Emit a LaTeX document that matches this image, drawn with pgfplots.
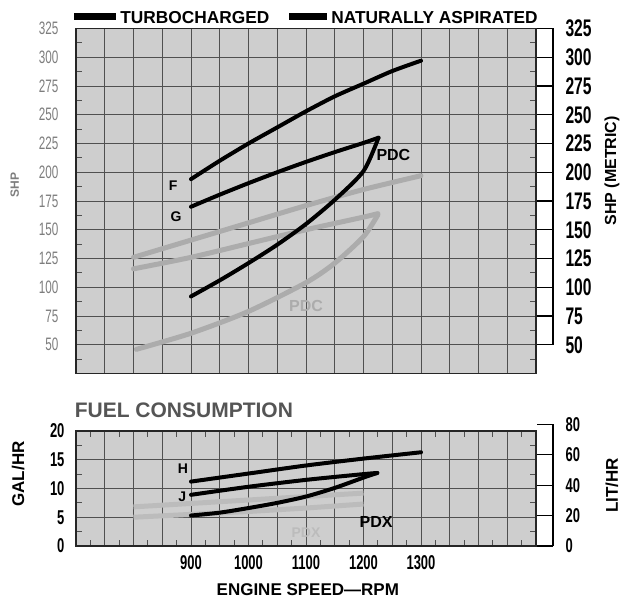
\documentclass[border=0pt]{standalone}
\usepackage{fontspec}
\setmainfont{Liberation Sans}
\newfontfamily\cond{Liberation Sans}[FakeStretch=0.65]
\usepackage{pgfplots}
\pgfplotsset{compat=1.18}
\definecolor{bgc}{RGB}{206,206,206}
\definecolor{gridc}{RGB}{80,80,80}
\definecolor{nagray}{RGB}{172,172,172}
\definecolor{nafaint}{RGB}{188,188,188}
\definecolor{labgray}{RGB}{125,125,125}
\definecolor{titgray}{RGB}{85,85,85}

\pgfplotsset{
  chartgrid/.style={
    scale only axis, width=460pt,
    xmin=700, xmax=1500,
    xtick={700,750,...,1500},
    grid=major, major grid style={draw=gridc, line width=0.9pt},
    major tick length=0pt, minor tick length=6pt,
    minor tick style={line width=0.9pt, draw=gridc},
    axis line style={line width=1.4pt, draw=black!85},
    axis background/.style={fill=bgc},
    /pgf/number format/assume math mode=true,
    clip=false,
  },
  rightscale/.style={
    scale only axis, width=460pt,
    xmin=700, xmax=1500,
    axis x line=none, axis y line*=right,
    tick align=inside, major tick length=16pt,
    tick style={line width=1.2pt, draw=black},
    axis line style={line width=1.3pt},
    /pgf/number format/assume math mode=true,
  },
  curve/.style={line width=4pt, smooth, tension=0.45, line cap=round},
}

\begin{document}
\begin{tikzpicture}
\useasboundingbox (-76pt,-230.5pt) rectangle (549pt,373.5pt);

% ---- power ----
\begin{axis}[chartgrid, at={(0,0)}, anchor=south west, height=345pt,
  ymin=25, ymax=325, ytick={50,75,...,325},
  minor ytick={37.5,62.5,...,312.5},
  xticklabel style={opacity=0},
  yticklabel style={font=\cond\fontsize{18}{18}\selectfont, text=labgray, xshift=-14pt},
  ylabel={SHP}, ylabel style={font=\bfseries\fontsize{12}{12}\selectfont, text=labgray,
    at={(axis description cs:-0.133,0.546)}, anchor=center},
]
% naturally aspirated (gray)
\addplot[curve, nagray, line width=5pt] coordinates {
  (800,126) (900,141) (1000,156) (1100,171) (1200,185) (1300,197) };
\addplot[curve, nagray, line width=5pt] coordinates {
  (800,116) (900,126) (1000,138) (1100,150) (1200,161) (1225,164) };
\addplot[curve, nagray, line width=5pt] coordinates {
  (805,46) (900,60) (1000,79) (1100,104) (1150,121) (1200,144) (1225,163) };
% turbocharged (black)
\addplot[curve, black] coordinates {
  (900,194) (950,210) (1000,225) (1050,239) (1100,253) (1150,266)
  (1200,277) (1250,288) (1300,297) };
\addplot[curve, black] coordinates {
  (900,170) (950,180.5) (1000,190.5) (1050,200) (1100,209) (1150,217.5) (1200,225.5) (1226,230) };
\addplot[curve, black] coordinates {
  (900,92) (950,106) (1000,121) (1050,137) (1100,155) (1150,176) (1200,201) (1226,230) };
\node[font=\bfseries\fontsize{14}{14}\selectfont] at (axis cs:869,188) {F};
\node[font=\bfseries\fontsize{14}{14}\selectfont] at (axis cs:874,161) {G};
\node[font=\bfseries\fontsize{16}{16}\selectfont] at (axis cs:1252,215) {PDC};
\node[font=\bfseries\fontsize{16}{16}\selectfont, text=nagray] at (axis cs:1100,84) {PDC};
% legend
\node[anchor=west, inner sep=0pt, font=\bfseries\fontsize{17.3}{17.3}\selectfont]
  at (axis description cs:-0.004,1.033)
  {\rule[0.18em]{42pt}{7pt}\hspace{4pt}TURBOCHARGED\hspace{20pt}\rule[0.18em]{38pt}{7pt}\hspace{4pt}NATURALLY ASPIRATED};
\end{axis}

\begin{axis}[rightscale, at={(17pt,28.75pt)}, anchor=south west, height=316.25pt,
  ymin=50, ymax=325, ytick={50,75,...,325},
  yticklabel style={font=\cond\bfseries\fontsize{24}{24}\selectfont, xshift=9pt},
  ylabel={SHP (METRIC)},
  ylabel style={font=\bfseries\fontsize{16}{16}\selectfont,
    at={(axis description cs:1.128,0.55)}, anchor=center},
]
\end{axis}

% ---- fuel consumption ----
\begin{axis}[chartgrid, at={(0,-172.5pt)}, anchor=south west, height=115pt,
  ymin=0, ymax=20, ytick={0,5,...,20},
  minor ytick={2.5,7.5,...,17.5},
  minor xtick={725,775,...,1475},
  xticklabels={{},{},{},{},900,{},1000,{},1100,{},1200,{},1300,{},{},{},{}},
  xticklabel style={font=\cond\bfseries\fontsize{20}{20}\selectfont, yshift=-6pt},
  yticklabel style={font=\cond\bfseries\fontsize{20}{20}\selectfont, xshift=-8pt},
  xlabel={ENGINE SPEED---RPM},
  xlabel style={font=\bfseries\fontsize{17}{17}\selectfont,
    at={(axis description cs:0.504,-0.383)}, anchor=center},
  ylabel={GAL/HR},
  ylabel style={font=\bfseries\fontsize{17}{17}\selectfont,
    at={(axis description cs:-0.126,0.626)}, anchor=center},
]
\addplot[nafaint, line width=5pt] coordinates {
  (800,6.8) (900,7.4) (1000,8.0) (1100,8.6) (1200,9.2) };
\addplot[nafaint, line width=5pt] coordinates {
  (800,5.0) (900,5.5) (1000,6.0) (1100,6.6) (1200,7.3) };
\addplot[curve, black] coordinates {
  (900,11.2) (1000,12.6) (1100,14.0) (1200,15.2) (1300,16.3) };
\addplot[curve, black] coordinates {
  (900,8.9) (1000,10.3) (1100,11.5) (1200,12.5) (1224,12.7) };
\addplot[curve, black] coordinates {
  (900,5.3) (950,5.8) (1000,6.6) (1050,7.5) (1100,8.6) (1150,10.1) (1200,11.9) (1224,12.7) };
\node[font=\bfseries\fontsize{14}{14}\selectfont] at (axis cs:886,13.4) {H};
\node[font=\bfseries\fontsize{14}{14}\selectfont] at (axis cs:885,8.6) {J};
\node[font=\bfseries\fontsize{16}{16}\selectfont] at (axis cs:1222,4.1) {PDX};
\node[font=\bfseries\fontsize{14}{14}\selectfont, text=nafaint] at (axis cs:1100,2.4) {PDX};
\node[anchor=west, inner sep=0pt, font=\bfseries\fontsize{21}{21}\selectfont, text=titgray]
  at (axis description cs:-0.003,1.183) {FUEL CONSUMPTION};
\end{axis}

\begin{axis}[rightscale, at={(17pt,-172.5pt)}, anchor=south west, height=121.53pt,
  ymin=0, ymax=80, ytick={0,20,...,80},
  yticklabel style={font=\cond\bfseries\fontsize{20}{20}\selectfont, xshift=9pt},
  ylabel={LIT/HR},
  ylabel style={font=\bfseries\fontsize{17}{17}\selectfont,
    at={(axis description cs:1.128,0.5)}, anchor=center},
]
\end{axis}
\end{tikzpicture}
\end{document}
